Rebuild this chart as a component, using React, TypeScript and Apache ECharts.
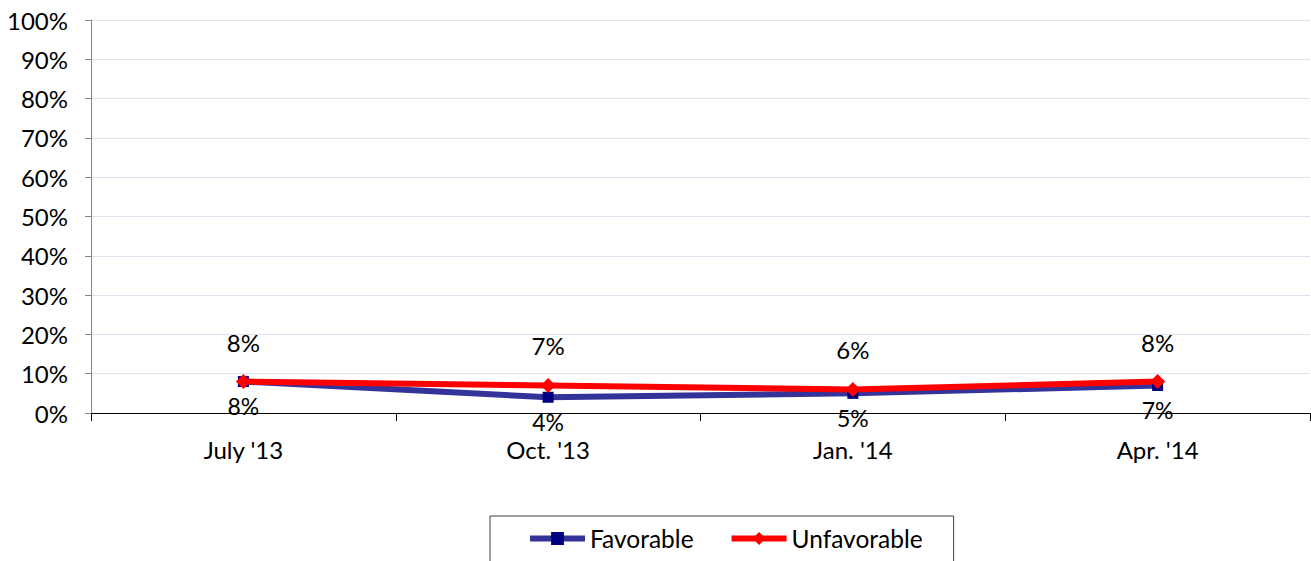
import React, { useEffect, useRef } from "react";
import * as echarts from "echarts";

const categories = ["July '13", "Oct. '13", "Jan. '14", "Apr. '14"];
const favorable = [8, 4, 5, 7];
const unfavorable = [8, 7, 6, 8];

const FONT = "Lato, 'Noto Sans', sans-serif";

export default function App() {
  const ref = useRef<HTMLDivElement>(null);
  useEffect(() => {
    if (!ref.current) return;
    const chart = echarts.init(ref.current, undefined, { renderer: "svg" });
    chart.setOption({
      animation: false,
      textStyle: { fontFamily: FONT },
      grid: { left: 91, right: 1, top: 20, bottom: 148, containLabel: false },
      legend: {
        left: 490,
        top: 516,
        padding: [10, 31, 30, 37],
        itemGap: 35,
        itemWidth: 55,
        itemHeight: 16,
        borderColor: "#404040",
        borderWidth: 1,
        textStyle: { fontFamily: FONT, fontSize: 24.5, color: "#000" },
        data: [
          { name: "Favorable", lineStyle: { width: 6, color: "#333399" } },
          { name: "Unfavorable", lineStyle: { width: 6, color: "#FF0000" } },
        ],
      },
      xAxis: {
        type: "category",
        data: categories,
        boundaryGap: true,
        axisLine: { lineStyle: { color: "#000", width: 1 } },
        axisTick: { show: true, length: 8, lineStyle: { color: "#000" } },
        axisLabel: { fontFamily: FONT, fontSize: 24, color: "#000", margin: 24 },
      },
      yAxis: {
        type: "value",
        min: 0,
        max: 100,
        interval: 10,
        axisLine: { show: true, lineStyle: { color: "#868686" } },
        axisTick: { show: true, length: 6, lineStyle: { color: "#868686" } },
        axisLabel: {
          fontFamily: FONT,
          fontSize: 24,
          color: "#000",
          margin: 23,
          formatter: "{value}%",
        },
        splitLine: { lineStyle: { color: "#DCE3F0", width: 1 } },
      },
      series: [
        {
          name: "Favorable",
          type: "line",
          data: favorable,
          symbol: "rect",
          symbolSize: 11,
          lineStyle: { color: "#333399", width: 6 },
          itemStyle: { color: "#000080" },
          label: {
            show: true,
            position: "bottom",
            distance: 8,
            formatter: "{c}%",
            fontFamily: FONT,
            fontSize: 23,
            lineHeight: 22,
            color: "#000",
          },
        },
        {
          name: "Unfavorable",
          type: "line",
          data: unfavorable,
          symbol: "diamond",
          symbolSize: 15,
          lineStyle: { color: "#FF0000", width: 6 },
          itemStyle: { color: "#FF0000" },
          label: {
            show: true,
            position: "top",
            distance: 20,
            formatter: "{c}%",
            fontFamily: FONT,
            fontSize: 24,
            color: "#000",
          },
        },
      ],
    });
    return () => chart.dispose();
  }, []);
  return (
    <div
      ref={ref}
      style={{ position: "fixed", left: 0, top: 0, width: 1311, height: 561, background: "#fff" }}
    />
  );
}
